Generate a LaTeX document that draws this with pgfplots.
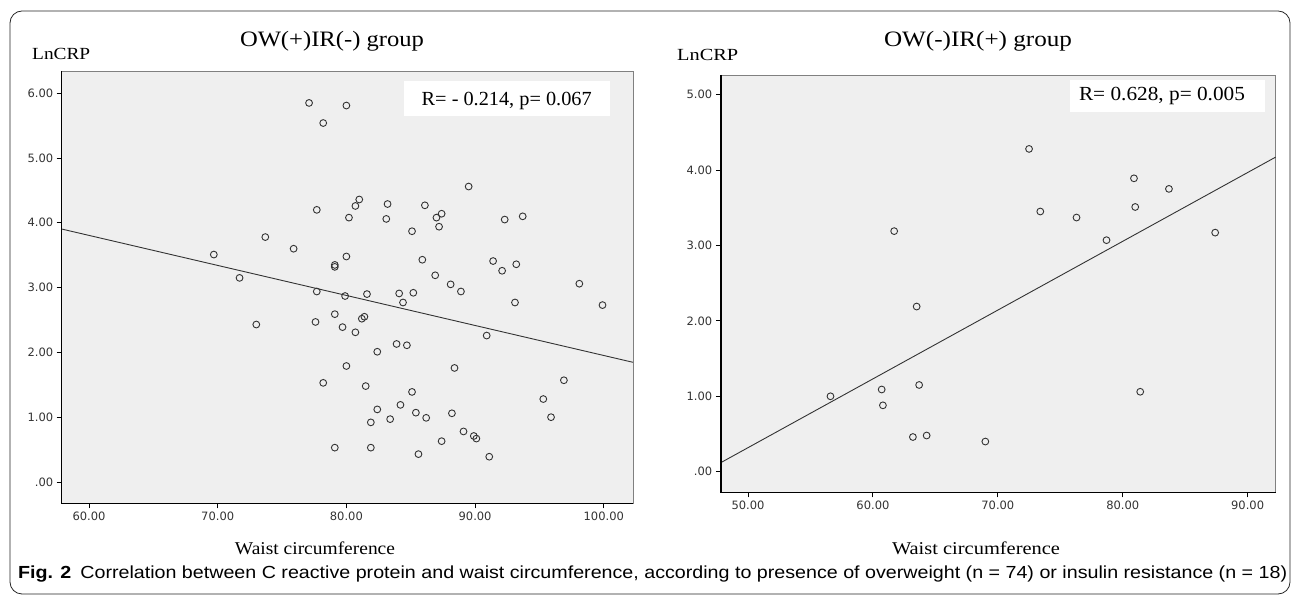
\documentclass[border=0pt]{standalone}
\usepackage{fontspec}
\setmainfont{Liberation Serif}
\newfontfamily\tickfont{DejaVu Sans}
\newfontfamily\capfont{Liberation Sans}
\usepackage{graphicx}
\usepackage{pgfplots}
\pgfplotsset{compat=1.18}

\definecolor{plotbg}{HTML}{EFEFEF}
\definecolor{ink}{HTML}{333333}

\pgfplotsset{spss/.style={
    scale only axis,
    axis background/.style={fill=plotbg},
    axis line style={draw=gray, line width=0.8pt},
    tick align=outside,
    tick pos=left,
    major tick length=5pt,
    tick style={black, line width=0.9pt},
    ticklabel style={font=\tickfont\fontsize{11.5}{13}\selectfont, text=ink},
    clip=false,
}}

% LnCRP vs waist circumference, OW(+)IR(-)
\pgfplotstableread{
x y
77.1 5.85
80.0 5.81
78.2 5.54
77.7 4.20
80.2 4.08
73.7 3.78
75.9 3.60
69.7 3.51
71.7 3.15
79.1 3.35
79.1 3.32
80.0 3.48
77.7 2.94
79.9 2.87
79.1 2.59
73.0 2.43
77.6 2.47
79.7 2.39
80.0 1.79
78.2 1.53
79.1 0.53
89.5 4.56
81.0 4.36
80.7 4.26
83.2 4.29
86.1 4.27
83.1 4.06
87.4 4.14
87.0 4.08
87.2 3.94
85.1 3.87
92.3 4.05
93.7 4.10
85.9 3.43
91.4 3.41
92.1 3.26
93.2 3.36
86.9 3.19
88.1 3.05
88.9 2.94
98.1 3.06
99.9 2.73
93.1 2.77
81.6 2.90
84.1 2.91
85.2 2.92
84.4 2.77
81.2 2.52
81.4 2.55
80.7 2.31
83.9 2.13
84.7 2.11
82.4 2.01
90.9 2.26
88.4 1.76
96.9 1.57
81.5 1.48
85.1 1.39
95.3 1.28
95.9 1.00
82.4 1.12
84.2 1.19
85.4 1.07
86.2 0.99
88.2 1.06
83.4 0.97
81.9 0.92
89.1 0.78
89.9 0.71
90.1 0.67
87.4 0.63
81.9 0.53
85.6 0.43
91.1 0.39
}\owdata

% OW(-)IR(+)
\pgfplotstableread{
x y
56.6 1.00
60.7 1.09
60.8 0.88
63.7 1.15
63.2 0.46
64.3 0.48
69.0 0.40
81.4 1.06
61.7 3.19
63.5 2.19
72.5 4.28
73.4 3.45
76.3 3.37
78.7 3.07
80.9 3.89
81.0 3.51
83.7 3.75
87.4 3.17
}\irdata

\begin{document}
\begin{tikzpicture}[x=1pt,y=1pt]
\path (0,0) rectangle (1293,596);
\draw[rounded corners=12pt, line width=0.8pt, black!85] (10,2) rectangle (1290,585);

% left panel
\begin{axis}[spss,
    at={(61.7pt,92.5pt)}, anchor=south west,
    width=571.3pt, height=432.5pt,
    xmin=57.88, xmax=102.27, ymin=-0.332, ymax=6.343,
    xtick={60,70,80,90,100},
    xticklabels={60.00,70.00,80.00,90.00,100.00},
    ytick={0,1,2,3,4,5,6},
    yticklabels={.00,1.00,2.00,3.00,4.00,5.00,6.00},
]
\addplot[only marks, mark=o, mark size=3.4pt, draw=ink, mark options={line width=0.9pt}] table {\owdata};
\addplot[ink, line width=0.9pt, no marks] coordinates {(57.88,3.904) (102.27,1.847)};
\draw[black, line width=1.4pt] (rel axis cs:0,1) -- (rel axis cs:0,0) -- (rel axis cs:1,0);
\end{axis}

% right panel
\begin{axis}[spss,
    at={(720.8pt,103.7pt)}, anchor=south west,
    width=554.8pt, height=417.3pt,
    xmin=47.82, xmax=92.24, ymin=-0.273, ymax=5.26,
    xtick={50,60,70,80,90},
    xticklabels={50.00,60.00,70.00,80.00,90.00},
    ytick={0,1,2,3,4,5},
    yticklabels={.00,1.00,2.00,3.00,4.00,5.00},
]
\addplot[only marks, mark=o, mark size=3.4pt, draw=ink, mark options={line width=0.9pt}] table {\irdata};
\addplot[ink, line width=0.9pt, no marks] coordinates {(47.82,0.12) (92.24,4.171)};
\draw[black, line width=1.4pt] (rel axis cs:0,1) -- (rel axis cs:0,0) -- (rel axis cs:1,0);
\end{axis}

% R boxes
\fill[white] (404,480) rectangle (610,515);
\node[anchor=base, inner sep=0] at (506.7,490) {\resizebox{170pt}{\height}{\fontsize{20}{24}\selectfont R= - 0.214, p= 0.067}};
\fill[white] (1070,484) rectangle (1265,516);
\node[anchor=base, inner sep=0] at (1162,495) {\resizebox{166pt}{\height}{\fontsize{20}{24}\selectfont R= 0.628, p= 0.005}};

% titles
\node[anchor=base, inner sep=0] at (332,549) {\resizebox{184pt}{\height}{\fontsize{22}{26}\selectfont OW(+)IR(-) group}};
\node[anchor=base, inner sep=0] at (978,549) {\resizebox{188pt}{\height}{\fontsize{22}{26}\selectfont OW(-)IR(+) group}};
\node[anchor=base west, inner sep=0] at (32,536) {\resizebox{58pt}{\height}{\fontsize{17}{20}\selectfont LnCRP}};
\node[anchor=base west, inner sep=0] at (677,535) {\resizebox{61pt}{\height}{\fontsize{17}{20}\selectfont LnCRP}};
\node[anchor=base, inner sep=0] at (315,41) {\resizebox{160pt}{\height}{\fontsize{18}{21}\selectfont Waist circumference}};
\node[anchor=base, inner sep=0] at (976,41) {\resizebox{168pt}{\height}{\fontsize{18}{21}\selectfont Waist circumference}};

% caption
\node[anchor=base west, inner sep=0] at (18,17) {\resizebox{1269pt}{\height}{\capfont\fontsize{17.5}{20}\selectfont\textbf{Fig. 2}\hspace{8pt}Correlation between C reactive protein and waist circumference, according to presence of overweight (n = 74) or insulin resistance (n = 18)}};
\end{tikzpicture}
\end{document}
